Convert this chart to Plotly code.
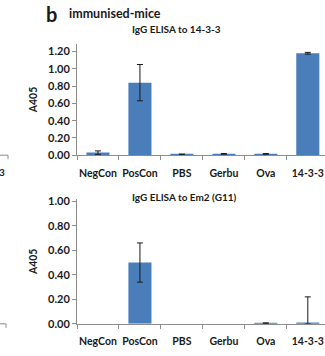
import plotly.graph_objects as go

categories = ["NegCon", "PosCon", "PBS", "Gerbu", "Ova", "14-3-3"]
igg_1433 = [0.03, 0.84, 0.01, 0.015, 0.015, 1.18]
igg_1433_err = [0.02, 0.21, 0.003, 0.004, 0.004, 0.01]
em2 = [0.0, 0.50, 0.0, 0.0, 0.005, 0.01]
em2_err = [None, 0.16, None, None, 0.003, 0.21]
yticks_top = [0.0, 0.2, 0.4, 0.6, 0.8, 1.0, 1.2]
yticks_bot = [0.0, 0.2, 0.4, 0.6, 0.8, 1.0]

W, H = 325, 356
L = 77
BAR = "#4A7EBB"
AX = "#8C8C8C"
FONT = "Lato"
TXT = "#1a1a1a"

def py(px):
    return 1 - px / H

def pxx(px):
    return (px - L) / (W - L)

fig = go.Figure()

fig.add_trace(go.Bar(
    x=categories, y=igg_1433, marker=dict(color=BAR, line=dict(width=0)),
    width=0.55,
    error_y=dict(type="data", array=igg_1433_err,
                 arrayminus=[min(e, v) for e, v in zip(igg_1433_err, igg_1433)],
                 color=TXT, thickness=1, width=3),
    xaxis="x", yaxis="y", showlegend=False))

fig.add_trace(go.Bar(
    x=categories, y=[v if v > 0 else None for v in em2],
    marker=dict(color=BAR, line=dict(width=0)),
    width=0.55, xaxis="x2", yaxis="y2", showlegend=False))

idx = [i for i, e in enumerate(em2_err) if e is not None]
fig.add_trace(go.Scatter(
    x=[categories[i] for i in idx], y=[em2[i] for i in idx],
    mode="markers", marker=dict(size=1, opacity=0),
    error_y=dict(type="data", array=[em2_err[i] for i in idx],
                 arrayminus=[min(em2_err[i], em2[i]) for i in idx],
                 color=TXT, thickness=1, width=3),
    xaxis="x2", yaxis="y2", showlegend=False, hoverinfo="skip"))

xcommon = dict(type="category", categoryorder="array", categoryarray=categories,
               range=[-0.5, 5.41], showline=True, linecolor=AX,
               linewidth=1, ticks="outside", tickson="boundaries", ticklen=4,
               tickcolor=AX, showgrid=False, zeroline=False, tickangle=0,
               tickfont=dict(family=FONT, size=10.5, color=TXT, weight="bold"),
               ticklabelstandoff=8, fixedrange=True)
ycommon = dict(showline=True, linecolor=AX, linewidth=1, ticks="outside",
               ticklen=4, tickcolor=AX, showgrid=False, zeroline=False,
               tickformat=".2f",
               tickfont=dict(family=FONT, size=11, color=TXT, weight="bold"),
               title=dict(text="A405", font=dict(family=FONT, size=10.5, color=TXT, weight="bold"),
                          standoff=8))

fig.update_layout(
    width=W, height=H,
    margin=dict(l=L, r=0, t=0, b=0),
    paper_bgcolor="white", plot_bgcolor="white",
    xaxis=dict(**xcommon, domain=[0, 1], anchor="y"),
    yaxis=dict(**ycommon, domain=[py(155), py(40)], range=[0, 1.29],
               tickvals=yticks_top, anchor="x"),
    xaxis2=dict(**xcommon, domain=[0, 1], anchor="y2"),
    yaxis2=dict(**ycommon, domain=[py(329), py(200)], range=[0, 1.02],
                tickvals=yticks_bot, anchor="x2"),
    annotations=[
        dict(text="b", x=pxx(44), y=py(9), xref="paper", yref="paper",
             xanchor="left", yanchor="middle", showarrow=False,
             font=dict(family=FONT, size=20, color=TXT, weight="bold")),
        dict(text="immunised-mice", x=pxx(67), y=py(9), xref="paper", yref="paper",
             xanchor="left", yanchor="middle", showarrow=False,
             font=dict(family=FONT, size=12.5, color=TXT, weight="bold")),
        dict(text="IgG ELISA to 14-3-3", x=pxx(176), y=py(25), xref="paper", yref="paper",
             xanchor="center", yanchor="middle", showarrow=False,
             font=dict(family=FONT, size=10, color=TXT, weight="bold")),
        dict(text="IgG ELISA to Em2 (G11)", x=pxx(184), y=py(198), xref="paper", yref="paper",
             xanchor="center", yanchor="middle", showarrow=False,
             font=dict(family=FONT, size=10, color=TXT, weight="bold")),
        dict(text="3", x=pxx(-3), y=py(172), xref="paper", yref="paper",
             xanchor="left", yanchor="middle", showarrow=False,
             font=dict(family=FONT, size=10, color=TXT, weight="bold")),
    ],
    shapes=[
        dict(type="line", xref="paper", yref="paper", x0=pxx(0), x1=pxx(8),
             y0=py(155), y1=py(155), line=dict(color=AX, width=1)),
        dict(type="line", xref="paper", yref="paper", x0=pxx(8), x1=pxx(8),
             y0=py(155), y1=py(159), line=dict(color=AX, width=1)),
        dict(type="line", xref="paper", yref="paper", x0=pxx(0), x1=pxx(6),
             y0=py(329), y1=py(329), line=dict(color=AX, width=1)),
        dict(type="line", xref="paper", yref="paper", x0=pxx(6), x1=pxx(6),
             y0=py(329), y1=py(333), line=dict(color=AX, width=1)),
    ],
)

fig.write_html("out.html")
